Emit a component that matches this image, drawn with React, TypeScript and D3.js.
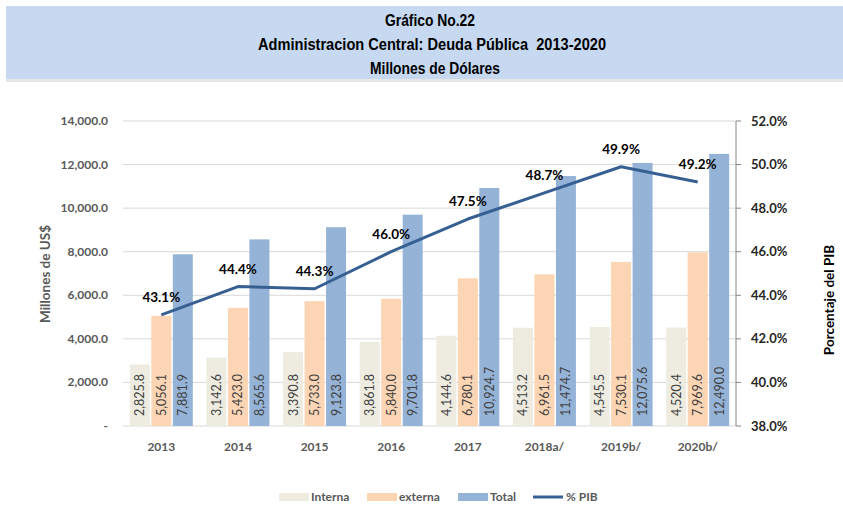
import React from "react";
import * as d3 from "d3";

const categories = ["2013", "2014", "2015", "2016", "2017", "2018a/", "2019b/", "2020b/"];
const interna = [2825.8, 3142.6, 3390.8, 3861.8, 4144.6, 4513.2, 4545.5, 4520.4];
const externa = [5056.1, 5423.0, 5733.0, 5840.0, 6780.1, 6961.5, 7530.1, 7969.6];
const total = [7881.9, 8565.6, 9123.8, 9701.8, 10924.7, 11474.7, 12075.6, 12490.0];
const pib = [43.1, 44.4, 44.3, 46.0, 47.5, 48.7, 49.9, 49.2];
const leftTicks = [0, 2000, 4000, 6000, 8000, 10000, 12000, 14000];
const rightTicks = [38, 40, 42, 44, 46, 48, 50, 52];

const seriesNames = ["Interna", "externa", "Total"];
const seriesColors = ["#EEECE1", "#FCD5B4", "#95B3D7"];
const lineColor = "#376092";

const W = 843, H = 514;
const left = 123, right = 736, top = 121, bottom = 426;

export default function App() {
  const x = d3.scaleBand<string>().domain(categories).range([left, right]).paddingInner(0).paddingOuter(0);
  const yL = d3.scaleLinear().domain([0, 14000]).range([bottom, top]);
  const yR = d3.scaleLinear().domain([38, 52]).range([bottom, top]);
  const series = [interna, externa, total];
  const inner = d3.scaleBand<number>().domain([0, 1, 2]).range([0, 63]).paddingInner(0.07);
  const groupOffset = (x.bandwidth() - 63) / 2;
  const fmt = d3.format(",.1f");
  const line = d3.line<number>().x((_, i) => x(categories[i])! + x.bandwidth() / 2).y((d) => yR(d));
  const font = "Lato, 'Open Sans', sans-serif";
  const titleFont = "'Liberation Sans', Arial, sans-serif";

  return (
    <svg width={W} height={H} style={{ position: "absolute", left: 0, top: 0, background: "#fff" }}>
      <rect x={6} y={6} width={837} height={73} fill="#C6D9F1" />
      <rect x={6} y={79} width={837} height={3} fill="#E6E6E6" />
      <g fontFamily={titleFont} fontWeight="bold" fontSize={16} textAnchor="middle" fill="#000">
        <text x={430} y={26} textLength={90} lengthAdjust="spacingAndGlyphs">Gráfico No.22</text>
        <text x={432} y={50} textLength={348} lengthAdjust="spacingAndGlyphs" style={{ whiteSpace: "pre" }}>
          Administracion Central: Deuda Pública  2013-2020
        </text>
        <text x={435} y={74} textLength={130} lengthAdjust="spacingAndGlyphs">Millones de Dólares</text>
      </g>
      {leftTicks.map((t) => (
        <g key={t}>
          <line x1={left} x2={right} y1={yL(t)} y2={yL(t)} stroke="#D9D9D9" strokeWidth={1} />
          <text x={108} y={yL(t) + 4} textAnchor="end" fontFamily={font} fontWeight="bold" fontSize={12} fill="#595959">
            {t === 0 ? "-" : fmt(t)}
          </text>
        </g>
      ))}
      <line x1={right} x2={right} y1={top} y2={bottom} stroke="#868686" />
      {rightTicks.map((t) => (
        <g key={t}>
          <line x1={right} x2={right + 5} y1={yR(t)} y2={yR(t)} stroke="#868686" />
          <text x={751} y={yR(t) + 4.5} fontFamily={font} fontWeight="bold" fontSize={13} fill="#262626">
            {t.toFixed(1)}%
          </text>
        </g>
      ))}
      {series.map((vals, s) =>
        vals.map((v, i) => {
          const bx = x(categories[i])! + groupOffset + inner(s)!;
          const bw = inner.bandwidth();
          return (
            <g key={`${s}-${i}`}>
              <rect x={bx} y={yL(v)} width={bw} height={bottom - yL(v)} fill={seriesColors[s]} />
              <text
                transform={`translate(${bx + bw / 2 + 4.5},${bottom - 10}) rotate(-90)`}
                fontFamily={font}
                fontSize={12.5}
                fill="#404040"
              >
                {fmt(v)}
              </text>
            </g>
          );
        })
      )}
      <path d={line(pib)!} fill="none" stroke={lineColor} strokeWidth={3} strokeLinejoin="round" />
      {pib.map((p, i) => (
        <text
          key={i}
          x={x(categories[i])! + x.bandwidth() / 2}
          y={yR(p) - 13}
          textAnchor="middle"
          fontFamily={font}
          fontWeight="bold"
          fontSize={13.5}
          fill="#000"
        >
          {p.toFixed(1)}%
        </text>
      ))}
      {categories.map((c) => (
        <text key={c} x={x(c)! + x.bandwidth() / 2} y={451} textAnchor="middle" fontFamily={font} fontWeight="bold" fontSize={12} fill="#595959">
          {c}
        </text>
      ))}
      <text transform={`translate(50,274) rotate(-90)`} textAnchor="middle" fontFamily={font} fontWeight="bold" fontSize={13.5} fill="#595959">
        Millones de US$
      </text>
      <text transform={`translate(834,300) rotate(-90)`} textAnchor="middle" fontFamily={font} fontWeight="bold" fontSize={13.5} fill="#000">
        Porcentaje del PIB
      </text>
      <g fontFamily={font} fontWeight="bold" fontSize={12} fill="#595959">
        {seriesNames.map((n, s) => {
          const xs = [279, 367, 458][s];
          return (
            <g key={n}>
              <rect x={xs} y={493} width={30} height={8} fill={seriesColors[s]} />
              <text x={xs + 32} y={501}>{n}</text>
            </g>
          );
        })}
        <line x1={533} x2={563} y1={497} y2={497} stroke={lineColor} strokeWidth={3} />
        <text x={566} y={501}>% PIB</text>
      </g>
    </svg>
  );
}
